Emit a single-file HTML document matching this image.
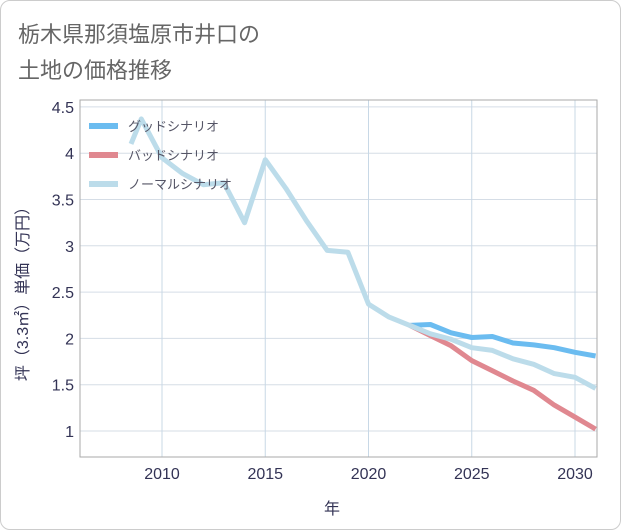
<!DOCTYPE html>
<html><head><meta charset="utf-8"><style>
body{margin:0;background:#fff;font-family:"Liberation Sans","Noto Sans CJK JP",sans-serif;}
#wrap{position:relative;width:619px;height:528px;border:1px solid #ccc;border-radius:10px;background:#fff;overflow:hidden}
</style></head><body>
<div id="wrap">
<svg id="svg" width="621" height="530" style="position:absolute;left:-1px;top:-1px">
<text x="18" y="42" font-size="22" fill="#666">栃木県那須塩原市井口の</text>
<text x="18" y="78" font-size="22" fill="#666">土地の価格推移</text>
<g id="grid"></g><g id="lines"></g><g id="legend"></g>
<text transform="translate(28,290) rotate(-90)" text-anchor="middle" font-size="16" fill="#335">坪（3.3㎡）単価（万円）</text>
<text x="332" y="514" text-anchor="middle" font-size="16" fill="#335">年</text>
</svg></div>
<script>
const years=[2008.5,2009,2010,2011,2012,2013,2014,2015,2016,2017,2018,2019,2020,2021,2022,2023,2024,2025,2026,2027,2028,2029,2030,2031];
const normal=[4.1,4.37,3.95,3.78,3.66,3.68,3.25,3.93,3.62,3.27,2.95,2.93,2.37,2.23,2.14,2.05,1.99,1.9,1.87,1.78,1.72,1.62,1.58,1.46];
const fYears=[2022,2023,2024,2025,2026,2027,2028,2029,2030,2031];
const good=[2.14,2.15,2.06,2.01,2.02,1.95,1.93,1.9,1.85,1.81];
const bad=[2.14,2.03,1.92,1.76,1.65,1.54,1.44,1.28,1.15,1.02];
const yTicks=[1,1.5,2,2.5,3,3.5,4,4.5];
const yLabels=["1","1.5","2","2.5","3","3.5","4","4.5"];
const xTicks=[2010,2015,2020,2025,2030];
const L=80,R=597,T=100,B=457;
const x=v=>162+(v-2010)*20.65, y=v=>431-(v-1)*92.6;
const ns="http://www.w3.org/2000/svg";
function mk(p,t,a){const e=document.createElementNS(ns,t);for(const k in a)e.setAttribute(k,a[k]);document.getElementById(p).appendChild(e);return e;}
yTicks.forEach((v,i)=>{let g=mk('grid','line',{x1:L,x2:R,y1:y(v),y2:y(v),stroke:'#d5dde6'});

let t=mk('grid','text',{x:L-6,y:y(v)+6,'text-anchor':'end','font-size':16,fill:'#335'});t.textContent=yLabels[i];
});
xTicks.forEach(v=>{let g=mk('grid','line',{x1:x(v),x2:x(v),y1:T,y2:B,stroke:'#c8d8e6'});

let t=mk('grid','text',{x:x(v),y:B+22,'text-anchor':'middle','font-size':16,fill:'#335'});t.textContent=v;
});
let f=mk('grid','path',{d:`M${L} ${T}H${R}V${B}H${L}Z`,fill:'none',stroke:'#aaa'});

function line(xs,vs,c,n){let d=xs.map((a,i)=>(i?'L':'M')+x(a).toFixed(1)+' '+y(vs[i]).toFixed(1)).join('');
let p=mk('lines','path',{d,fill:'none',stroke:c,'stroke-width':5,'stroke-linejoin':'round'});
}
line(fYears,good,'#6bbcf0','good-scenario-line');
line(fYears,bad,'#e08890','bad-scenario-line');
line(years,normal,'#bcdcea','normal-scenario-line');
[['グッドシナリオ','#6bbcf0'],['バッドシナリオ','#e08890'],['ノーマルシナリオ','#bcdcea']].forEach((e,i)=>{
let yy=126+i*29;
let r=mk('legend','rect',{x:89,y:yy-3,width:29,height:6,fill:e[1]});

let t=mk('legend','text',{x:128,y:yy+5,'font-size':13,fill:'#556'});t.textContent=e[0];
});
</script></body></html>
